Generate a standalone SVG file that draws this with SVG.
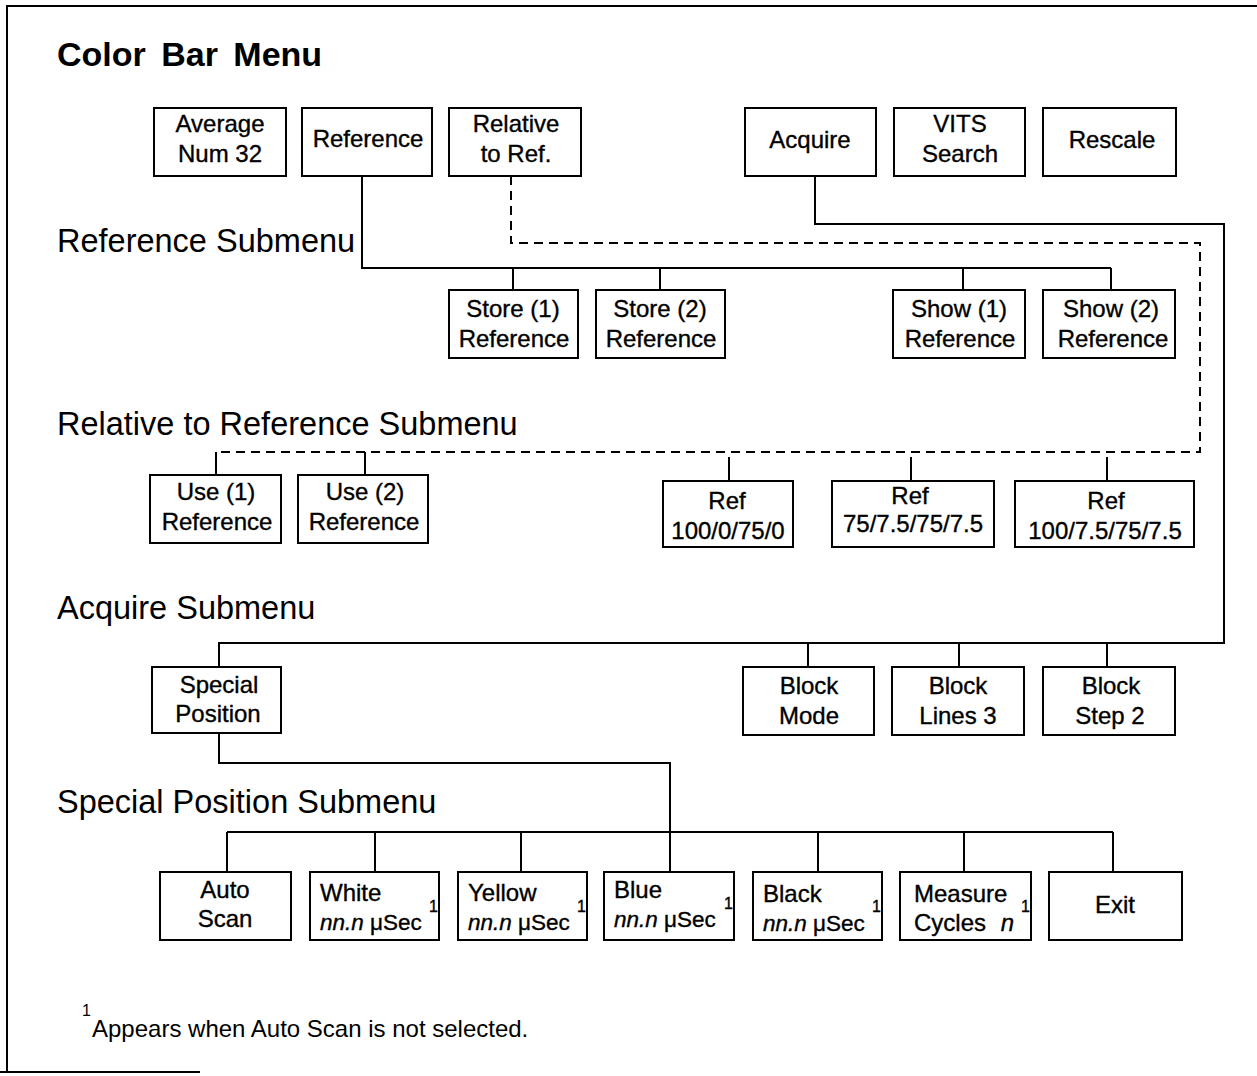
<svg xmlns="http://www.w3.org/2000/svg" width="1257" height="1076" viewBox="0 0 1257 1076">
<style>
text{font-family:"Liberation Sans",Arial,sans-serif;fill:#000}
.b rect{fill:#fff;stroke:#000;stroke-width:2}
.b text{stroke:#000;stroke-width:0.35}
.t{font-size:24px;text-anchor:middle}
.l{font-size:24px}
.m{font-size:22.5px}
.h{font-size:32.5px}
.c{fill:none;stroke:#000;stroke-width:2}
.d{fill:none;stroke:#000;stroke-width:2;stroke-dasharray:9 6}
.s{font-size:16px}
</style>
<rect width="1257" height="1076" fill="#fff"/>
<g id="frame" class="c"><path d="M7 1072V6H1257"/><path d="M0 1072H200"/></g>
<text x="57" y="66" font-size="34" font-weight="bold" word-spacing="6">Color Bar Menu</text>
<text class="h" x="57" y="252">Reference Submenu</text>
<text class="h" x="57" y="435">Relative to Reference Submenu</text>
<text class="h" x="57" y="619">Acquire Submenu</text>
<text class="h" x="57" y="813">Special Position Submenu</text>

<g id="connectors">
<path class="c" d="M362 176V268H1111M513 268V290M660 268V290M963 268V290M1111 268V290"/>
<path class="d" d="M511 176V243H1200V452H216"/>
<path class="c" d="M216 452V475M365 452V475M729 457V481M911 457V481M1107 457V481"/>
<path class="c" d="M815 176V224H1224V643H219V667M808 643V667M959 643V667M1107 643V667"/>
<path class="c" d="M219 733V763H670V872M227 832H1113M227 832V872M375 832V872M521 832V872M818 832V872M964 832V872M1113 832V872"/>
</g>

<g id="avg" class="b"><rect x="154" y="108" width="132" height="68"/><text class="t" x="220" y="132">Average</text><text class="t" x="220" y="162">Num 32</text></g>
<g id="ref" class="b"><rect x="302" y="108" width="130" height="68"/><text class="t" x="368" y="147">Reference</text></g>
<g id="relref" class="b"><rect x="449" y="108" width="132" height="68"/><text class="t" x="516" y="132">Relative</text><text class="t" x="516" y="162">to Ref.</text></g>
<g id="acquire" class="b"><rect x="745" y="108" width="131" height="68"/><text class="t" x="810" y="148">Acquire</text></g>
<g id="vits" class="b"><rect x="894" y="108" width="131" height="68"/><text class="t" x="960" y="132">VITS</text><text class="t" x="960" y="162">Search</text></g>
<g id="rescale" class="b"><rect x="1043" y="108" width="133" height="68"/><text class="t" x="1112" y="148">Rescale</text></g>

<g id="store1" class="b"><rect x="449" y="290" width="129" height="68"/><text class="t" x="513" y="317">Store (1)</text><text class="t" x="514" y="347">Reference</text></g>
<g id="store2" class="b"><rect x="596" y="290" width="129" height="68"/><text class="t" x="660" y="317">Store (2)</text><text class="t" x="661" y="347">Reference</text></g>
<g id="show1" class="b"><rect x="893" y="290" width="132" height="68"/><text class="t" x="959" y="317">Show (1)</text><text class="t" x="960" y="347">Reference</text></g>
<g id="show2" class="b"><rect x="1043" y="290" width="132" height="68"/><text class="t" x="1111" y="317">Show (2)</text><text class="t" x="1113" y="347">Reference</text></g>

<g id="use1" class="b"><rect x="150" y="475" width="131" height="68"/><text class="t" x="216" y="500">Use (1)</text><text class="t" x="217" y="530">Reference</text></g>
<g id="use2" class="b"><rect x="298" y="475" width="130" height="68"/><text class="t" x="365" y="500">Use (2)</text><text class="t" x="364" y="530">Reference</text></g>
<g id="ref1" class="b"><rect x="663" y="481" width="130" height="66"/><text class="t" x="727" y="509">Ref</text><text class="t" x="728" y="539">100/0/75/0</text></g>
<g id="ref2" class="b"><rect x="832" y="481" width="162" height="66"/><text class="t" x="910" y="504">Ref</text><text class="t" x="913" y="532">75/7.5/75/7.5</text></g>
<g id="ref3" class="b"><rect x="1015" y="481" width="179" height="66"/><text class="t" x="1106" y="509">Ref</text><text class="t" x="1105" y="539">100/7.5/75/7.5</text></g>

<g id="special" class="b"><rect x="152" y="667" width="129" height="66"/><text class="t" x="219" y="693">Special</text><text class="t" x="218" y="722">Position</text></g>
<g id="bmode" class="b"><rect x="743" y="667" width="131" height="68"/><text class="t" x="809" y="694">Block</text><text class="t" x="809" y="724">Mode</text></g>
<g id="blines" class="b"><rect x="892" y="667" width="132" height="68"/><text class="t" x="958" y="694">Block</text><text class="t" x="958" y="724">Lines 3</text></g>
<g id="bstep" class="b"><rect x="1043" y="667" width="132" height="68"/><text class="t" x="1111" y="694">Block</text><text class="t" x="1110" y="724">Step 2</text></g>

<g id="auto" class="b"><rect x="160" y="872" width="131" height="68"/><text class="t" x="225" y="898">Auto</text><text class="t" x="225" y="927">Scan</text></g>
<g id="white" class="b"><rect x="310" y="872" width="129" height="68"/><text class="l" x="320" y="901">White</text><text class="m" x="320" y="930"><tspan font-style="italic">nn.n</tspan> μSec</text><text class="s" x="429" y="912">1</text></g>
<g id="yellow" class="b"><rect x="458" y="872" width="129" height="68"/><text class="l" x="468" y="901">Yellow</text><text class="m" x="468" y="930"><tspan font-style="italic">nn.n</tspan> μSec</text><text class="s" x="577" y="912">1</text></g>
<g id="blue" class="b"><rect x="604" y="872" width="130" height="68"/><text class="l" x="614" y="898">Blue</text><text class="m" x="614" y="927"><tspan font-style="italic">nn.n</tspan> μSec</text><text class="s" x="724" y="909">1</text></g>
<g id="black" class="b"><rect x="753" y="872" width="129" height="68"/><text class="l" x="763" y="902">Black</text><text class="m" x="763" y="931"><tspan font-style="italic">nn.n</tspan> μSec</text><text class="s" x="872" y="912">1</text></g>
<g id="measure" class="b"><rect x="900" y="872" width="131" height="68"/><text class="l" x="914" y="902">Measure</text><text class="l" x="914" y="931">Cycles <tspan font-style="italic" dx="8">n</tspan></text><text class="s" x="1021" y="912">1</text></g>
<g id="exit" class="b"><rect x="1049" y="872" width="133" height="68"/><text class="t" x="1115" y="913">Exit</text></g>

<text class="s" x="82" y="1016">1</text>
<text x="92" y="1037" font-size="24">Appears when Auto Scan is not selected.</text>
</svg>
